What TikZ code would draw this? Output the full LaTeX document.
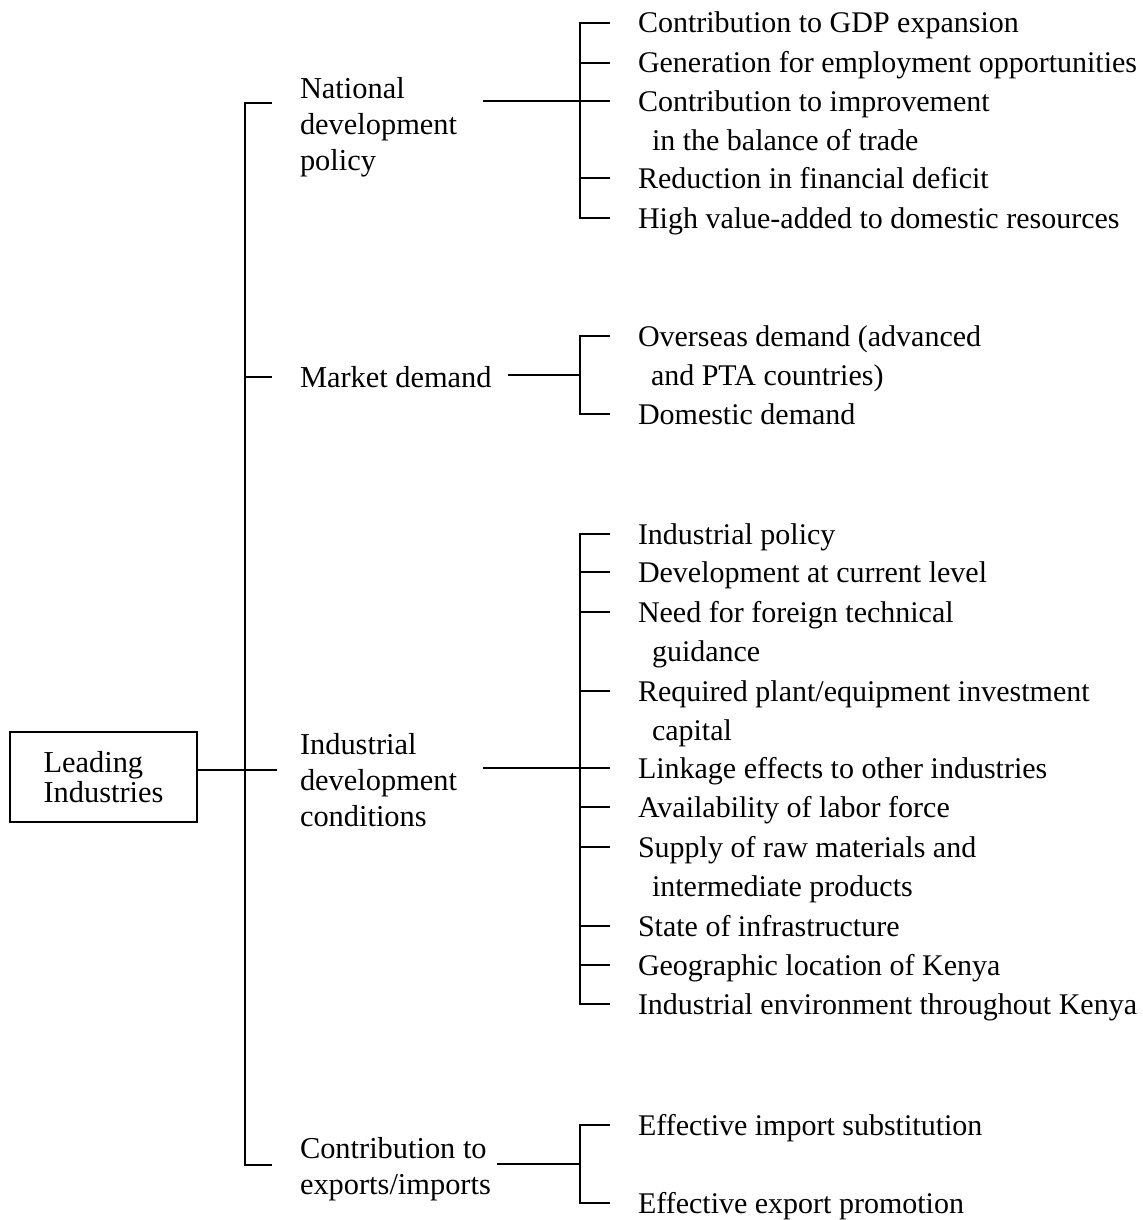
\documentclass[tikz,border=0pt]{standalone}
\usepackage{fontspec}
\setmainfont{Liberation Serif}
\usetikzlibrary{positioning,calc}

\begin{document}
\begin{tikzpicture}[
      x=0.5pt, y=-0.5pt,
      every node/.style = {inner sep=0pt, outer sep=0pt},
      item/.style  = {anchor=base west, align=left,
                      font=\fontsize{15}{19.5}\selectfont},
      cat/.style   = {anchor=base west, align=left,
                      font=\fontsize{15.2}{18}\selectfont},
      root/.style  = {draw, line width=0.9pt, minimum width=93.5pt,
                      minimum height=45pt, align=left,
                      font=\fontsize{15.2}{15}\selectfont},
      tree/.style  = {line width=0.9pt},
    ]
    \useasboundingbox (0,0) rectangle (1142,1220);

    % root and categories (base = last line)
    \node[root] (lead) at (103.5,777) {Leading\\Industries};
    \node[cat] (nat) at (300,170)  {National\\development\\policy};
    \node[cat] (mkt) at (300,387)  {Market demand};
    \node[cat] (ind) at (300,826)  {Industrial\\development\\conditions};
    \node[cat] (exp) at (300,1194) {Contribution to\\exports/imports};

    % national development policy
    \node[item] (na1) at (638,33)  {Contribution to GDP expansion};
    \node[item] (na2) at (638,73)  {Generation for employment opportunities};
    \node[item] (na3) at (638,150) {Contribution to improvement\\\hspace*{7pt}in the balance of trade};
    \node[item] (na4) at (638,188) {Reduction in financial deficit};
    \node[item] (na5) at (638,228) {High value-added to domestic resources};

    % market demand
    \node[item] (ma1) at (638,385) {Overseas demand (advanced\\\hspace*{6.5pt}and PTA countries)};
    \node[item] (ma2) at (638,424) {Domestic demand};

    % industrial development conditions
    \node[item] (ia1)  at (638,544)  {Industrial policy};
    \node[item] (ia2)  at (638,582)  {Development at current level};
    \node[item] (ia3)  at (638,661)  {Need for foreign technical\\\hspace*{7pt}guidance};
    \node[item] (ia4)  at (638,740)  {Required plant/equipment investment\\\hspace*{7pt}capital};
    \node[item] (ia5)  at (638,778)  {Linkage effects to other industries};
    \node[item] (ia6)  at (638,817)  {Availability of labor force};
    \node[item] (ia7)  at (638,896)  {Supply of raw materials and\\\hspace*{7pt}intermediate products};
    \node[item] (ia8)  at (638,936)  {State of infrastructure};
    \node[item] (ia9)  at (638,975)  {Geographic location of Kenya};
    \node[item] (ia10) at (638,1014) {Industrial environment throughout Kenya};

    % contribution to exports/imports
    \node[item] (xa1) at (638,1135) {Effective import substitution};
    \node[item] (xa2) at (638,1213) {Effective export promotion};

    % main spine
    \coordinate (s1) at (245,103);
    \coordinate (s2) at (245,377);
    \coordinate (s3) at (245,770);
    \coordinate (s4) at (245,1165);
    \draw[tree] ([xshift=13.5pt]s1) -- (s1) -- (s4) -- ([xshift=13.5pt]s4);
    \draw[tree] (s2) -- ++(27,0);
    \draw[tree] (lead.east |- s3) -- ([xshift=16pt]s3);

    % brackets (two-line items tick at their first line)
    \draw[tree] ([shift={(-28,-10)}]na1.base west) -- ++(-30,0) |- ([shift={(-28,-10)}]na5.base west);
    \foreach \n/\dy in {na2/10, na3/49, na4/10}
      \draw[tree] ([shift={(-28,-\dy)}]\n.base west) -- ++(-30,0);
    \draw[tree] ([shift={(-28,-49)}]ma1.base west) -- ++(-30,0) |- ([shift={(-28,-10)}]ma2.base west);
    \draw[tree] ([shift={(-28,-10)}]ia1.base west) -- ++(-30,0) |- ([shift={(-28,-10)}]ia10.base west);
    \foreach \n/\dy in {ia2/10, ia3/49, ia4/49, ia5/10, ia6/10, ia7/49, ia8/10, ia9/10}
      \draw[tree] ([shift={(-28,-\dy)}]\n.base west) -- ++(-30,0);
    \draw[tree] ([shift={(-28,-10)}]xa1.base west) -- ++(-30,0) |- ([shift={(-28,-10)}]xa2.base west);

    % category to bracket
    \coordinate (nb) at ([shift={(-58,-49)}]na3.base west);
    \coordinate (mb) at ($(ma1.base west)!.5!(ma2.base west)+(-58,-29.5)$);
    \coordinate (ib) at ([shift={(-58,-10)}]ia5.base west);
    \coordinate (xb) at ($(xa1.base west)!.5!(xa2.base west)+(-58,-10)$);
    \draw[tree] ([xshift=13pt]nat.east |- nb) -- (nb);
    \draw[tree] ([xshift=8pt]mkt.east |- mb) -- (mb);
    \draw[tree] ([xshift=13pt]ind.east |- ib) -- (ib);
    \draw[tree] ([xshift=3pt]exp.east |- xb) -- (xb);
  \end{tikzpicture}
\end{document}
